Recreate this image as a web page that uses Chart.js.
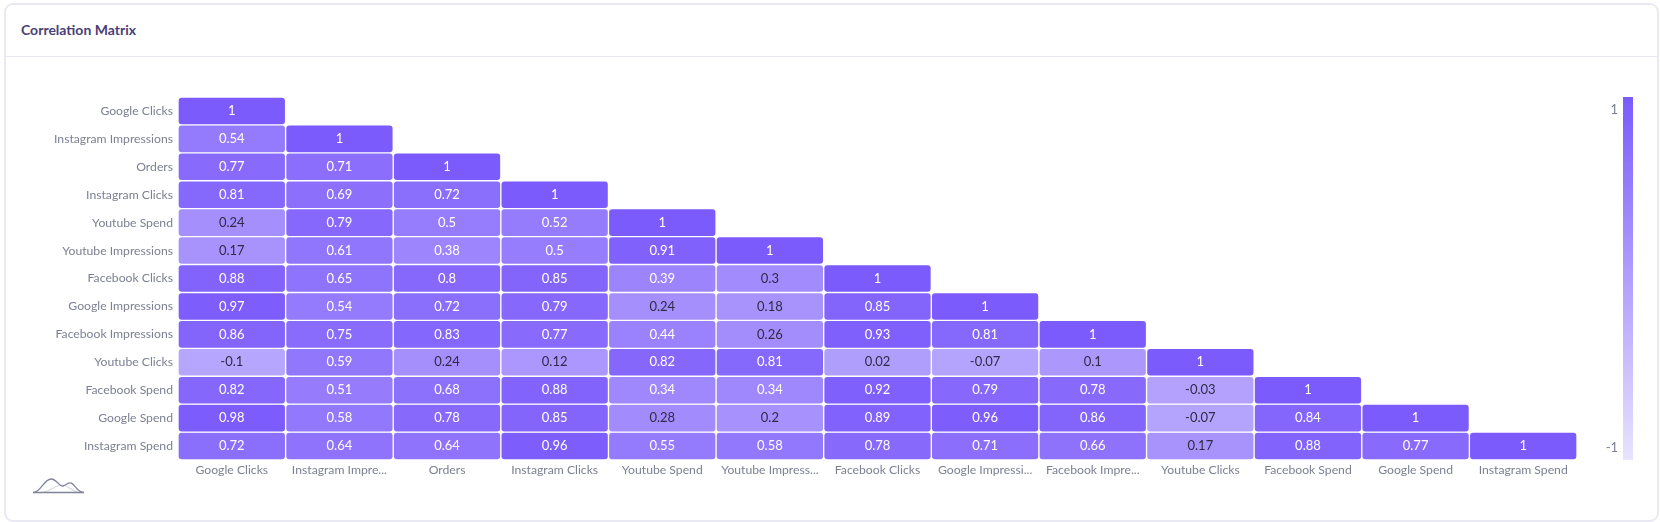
<!DOCTYPE html>
<html>
<head>
<meta charset="utf-8">
<title>Correlation Matrix</title>
<script src="https://cdn.jsdelivr.net/npm/chart.js@4"></script>
<style>
    html, body { margin: 0; padding: 0; background: #fff; overflow: hidden; }
    body { width: 1660px; height: 522px; position: relative; font-family: Lato, sans-serif; }
    .card { position: absolute; left: 4px; top: 3px; width: 1651px; height: 515px; border: 2px solid #e9e9f3; border-radius: 9px; box-sizing: content-box; }
    .head { position: absolute; left: 0; top: 0; right: 0; height: 51px; border-bottom: 1px solid #e9e9f3; }
    .head span { position: absolute; left: 15px; top: 16px; font-size: 14px; font-weight: 700; color: #4a4078; }
    canvas { position: absolute; left: 0; top: 0; }
    svg { position: absolute; left: 33px; top: 476px; }
</style>
</head>
<body>
<div class="card"><div class="head"><span>Correlation Matrix</span></div></div>
<canvas id="corrChart" width="1660" height="522"></canvas>
<svg width="52" height="18" viewBox="0 0 52 18">
    <path d="M10 16 C17 16 21 9 29 9 C34 9 38 14 44 16" fill="none" stroke="#d9dbe3" stroke-width="1.2"/>
    <path d="M0 16.5 C8 16.5 11 3 18 3 C24 3 26 11 30 10 C34 9 35 6 38 7 C42 8 44 16.5 51 16.5" fill="none" stroke="#80849a" stroke-width="1.3"/>
    <path d="M0 16.5 H51" fill="none" stroke="#80849a" stroke-width="1.3"/>
</svg>
<script>
const rowLabels = ['Google Clicks', 'Instagram Impressions', 'Orders', 'Instagram Clicks', 'Youtube Spend', 'Youtube Impressions', 'Facebook Clicks', 'Google Impressions', 'Facebook Impressions', 'Youtube Clicks', 'Facebook Spend', 'Google Spend', 'Instagram Spend'];
const colLabels = ['Google Clicks', 'Instagram Impre...', 'Orders', 'Instagram Clicks', 'Youtube Spend', 'Youtube Impress...', 'Facebook Clicks', 'Google Impressi...', 'Facebook Impre...', 'Youtube Clicks', 'Facebook Spend', 'Google Spend', 'Instagram Spend'];

// one list per row of the lower triangle
const googleClicks = [1];
const instagramImpressions = [0.54, 1];
const orders = [0.77, 0.71, 1];
const instagramClicks = [0.81, 0.69, 0.72, 1];
const youtubeSpend = [0.24, 0.79, 0.5, 0.52, 1];
const youtubeImpressions = [0.17, 0.61, 0.38, 0.5, 0.91, 1];
const facebookClicks = [0.88, 0.65, 0.8, 0.85, 0.39, 0.3, 1];
const googleImpressions = [0.97, 0.54, 0.72, 0.79, 0.24, 0.18, 0.85, 1];
const facebookImpressions = [0.86, 0.75, 0.83, 0.77, 0.44, 0.26, 0.93, 0.81, 1];
const youtubeClicks = [-0.1, 0.59, 0.24, 0.12, 0.82, 0.81, 0.02, -0.07, 0.1, 1];
const facebookSpend = [0.82, 0.51, 0.68, 0.88, 0.34, 0.34, 0.92, 0.79, 0.78, -0.03, 1];
const googleSpend = [0.98, 0.58, 0.78, 0.85, 0.28, 0.2, 0.89, 0.96, 0.86, -0.07, 0.84, 1];
const instagramSpend = [0.72, 0.64, 0.64, 0.96, 0.55, 0.58, 0.78, 0.71, 0.66, 0.17, 0.88, 0.77, 1];
const matrixRows = [googleClicks, instagramImpressions, orders, instagramClicks, youtubeSpend, youtubeImpressions, facebookClicks, googleImpressions, facebookImpressions, youtubeClicks, facebookSpend, googleSpend, instagramSpend];

const scaleTicks = [1, -1];
const lowColor = [232, 227, 254];
const highColor = [123, 91, 252];

// value -1..1 to a colour on the light -> dark purple ramp
function cellColor(v) {
    const t = (v + 1) / 2;
    const c = lowColor.map((l, i) => Math.round(l + (highColor[i] - l) * t));
    return `rgb(${c[0]},${c[1]},${c[2]})`;
}

// cell text and the colour bar
const matrixExtras = {
    id: 'matrixExtras',
    afterDatasetsDraw(chart) {
        const c = chart.ctx;
        c.save();
        c.textAlign = 'center';
        c.textBaseline = 'middle';
        c.font = '13px Lato';
        chart.data.datasets.forEach((ds, d) => {
            chart.getDatasetMeta(d).data.forEach((bar, i) => {
                const v = ds.values[i];
                if (v === undefined) return;
                const p = bar.getCenterPoint();
                c.fillStyle = v <= 0.3 ? '#2f2a45' : '#ffffff';
                c.fillText(String(v), p.x, p.y);
            });
        });
        const area = chart.chartArea;
        const barX = area.right + 46;
        const grad = c.createLinearGradient(0, area.top, 0, area.bottom);
        grad.addColorStop(0, cellColor(1));
        grad.addColorStop(1, cellColor(-1));
        c.fillStyle = grad;
        c.fillRect(barX, area.top, 10, area.bottom - area.top);
        c.fillStyle = '#7c8092';
        c.textAlign = 'right';
        c.fillText(String(scaleTicks[0]), barX - 5, area.top + 13);
        c.fillText(String(scaleTicks[1]), barX - 5, area.bottom - 12);
        c.restore();
    }
};

const datasets = matrixRows.map((row, r) => ({
    label: rowLabels[r],
    values: row,
    data: row.map(() => [r, r + 1]),
    backgroundColor: row.map(cellColor),
    borderColor: '#ffffff',
    borderWidth: 1,
    borderSkipped: false,
    borderRadius: 4,
    barPercentage: 1,
    categoryPercentage: 1,
    grouped: false
}));

new Chart(document.getElementById('corrChart'), {
    type: 'bar',
    data: { labels: colLabels, datasets: datasets },
    options: {
        responsive: false,
        animation: false,
        layout: { padding: { top: 97, right: 83, bottom: 22, left: 0 } },
        plugins: { legend: { display: false }, tooltip: { enabled: false } },
        scales: {
            x: {
                grid: { display: false, drawTicks: false },
                border: { display: false },
                afterFit: axis => { axis.height = 40; },
                ticks: { color: '#7c8092', font: { family: 'Lato', size: 12.2 }, autoSkip: false, maxRotation: 0, padding: 3 }
            },
            y: {
                type: 'linear',
                reverse: true,
                min: 0,
                max: rowLabels.length,
                grid: { display: false, drawTicks: false },
                border: { display: false },
                afterFit: axis => { axis.width = 178; },
                // band centres, so each label sits beside its row
                afterBuildTicks: axis => { axis.ticks = rowLabels.map((_, i) => ({ value: i + 0.5 })); },
                ticks: {
                    color: '#7c8092',
                    font: { family: 'Lato', size: 12.2 },
                    autoSkip: false,
                    padding: 5,
                    callback: (value, index) => rowLabels[index]
                }
            }
        }
    },
    plugins: [matrixExtras]
});
</script>
</body>
</html>
